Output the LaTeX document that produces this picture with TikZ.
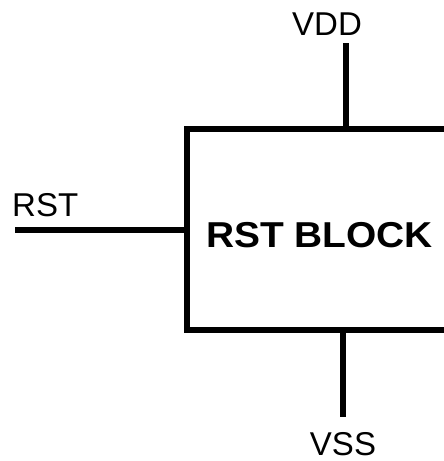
\documentclass[tikz,border=0pt]{standalone}
\usepackage{fontspec}
\setmainfont{Liberation Sans}
\tikzset{
  wire/.style={line width=6pt, black},
  lbl/.style={inner sep=0pt, anchor=base, font=\fontsize{33}{40}\selectfont},
  blockbox/.style={draw, line width=6pt, fill=white, minimum width=263pt, minimum height=201pt, inner sep=0pt},
  blocklbl/.style={inner sep=0pt, anchor=base, font=\fontsize{36}{42}\selectfont\bfseries}
}
\begin{document}
\begin{tikzpicture}[x=1pt,y=-1pt]
\useasboundingbox (0,0) rectangle (444,461);
\clip (0,0) rectangle (444,461);
\node[blockbox] (blk) at (318.5,229.5) {};
\node[blocklbl, xscale=1.08] (blktxt) at (319.5,247) {RST BLOCK};
\coordinate (vddend) at (346,43);
\coordinate (vssend) at (343,417);
\coordinate (rstend) at (15,229.5);
\draw[wire] (vddend) -- (vddend |- blk.north);
\draw[wire] (vssend |- blk.south) -- (vssend);
\draw[wire] (rstend) -- (blk.west);
\node[lbl] (vdd) at (327,35) {VDD};
\node[lbl] (vss) at (343,455) {VSS};
\node[lbl, anchor=base west] (rst) at (12,216) {RST};
\end{tikzpicture}
\end{document}
